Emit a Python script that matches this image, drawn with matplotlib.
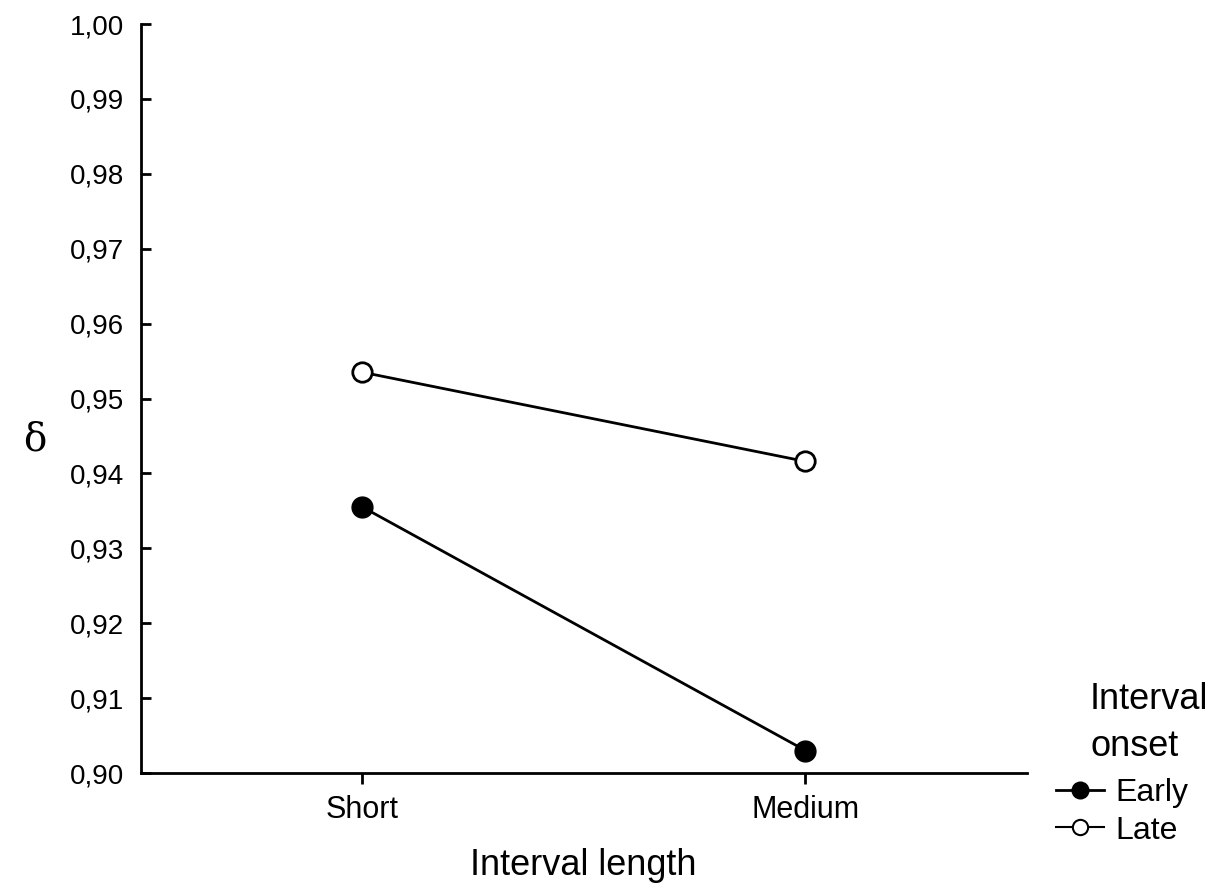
import matplotlib
matplotlib.use("Agg")
import matplotlib.pyplot as plt
from matplotlib.lines import Line2D

categories = ["Short", "Medium"]
early = [0.9355, 0.9030]
late = [0.9535, 0.9416]
yticks = [0.90, 0.91, 0.92, 0.93, 0.94, 0.95, 0.96, 0.97, 0.98, 0.99, 1.00]
ytick_labels = ["0,90", "0,91", "0,92", "0,93", "0,94", "0,95", "0,96", "0,97", "0,98", "0,99", "1,00"]
series_labels = ["Early", "Late"]

plt.rcParams['font.family'] = ['Liberation Sans', 'DejaVu Sans']

fig = plt.figure(figsize=(12.17, 8.88), dpi=100)
ax = fig.add_axes([141/1217, 1-773/888, (1027-141)/1217, (773-24)/888])

x = list(range(len(categories)))
ax.plot(x, early, color='black', lw=2, marker='o', ms=15, mfc='black', mec='black', label=series_labels[0])
ax.plot(x, late, color='black', lw=2, marker='o', ms=14, mfc='white', mec='black', mew=2, label=series_labels[1])

ax.set_xlim(-0.5, 1.5)
ax.set_ylim(0.90, 1.00)
ax.set_xticks(x)
ax.set_xticklabels(categories, fontsize=22)
ax.set_yticks(yticks)
ax.set_yticklabels(ytick_labels, fontsize=20)
ax.tick_params(axis='y', direction='in', length=7, width=2, pad=12)
ax.tick_params(axis='x', direction='out', length=8, width=2, pad=8)

for s in ['top', 'right']:
    ax.spines[s].set_visible(False)
for s in ['left', 'bottom']:
    ax.spines[s].set_linewidth(2)

fig.text(35/1217, 1-440/888, "δ", fontsize=28, family='DejaVu Serif', ha='center', va='center')
fig.text(583/1217, 1-865/888, "Interval length", fontsize=26, ha='center', va='center')

fig.text(1090/1217, 1-723/888, "Interval\nonset", fontsize=26, ha='left', va='center', linespacing=1.42)

handles = [Line2D([], [], color='black', lw=2, marker='o', ms=12, mfc='black', mec='black'),
           Line2D([], [], color='black', lw=1.5, marker='o', ms=11, mfc='white', mec='black', mew=1.5)]
leg = fig.legend(handles, series_labels, loc='center left', bbox_to_anchor=(1040/1217, 1-812/888),
                 frameon=False, fontsize=23, handlelength=1.5, handletextpad=0.35, labelspacing=0.22,
                 borderpad=0)

fig.savefig("out.png", dpi=100)
